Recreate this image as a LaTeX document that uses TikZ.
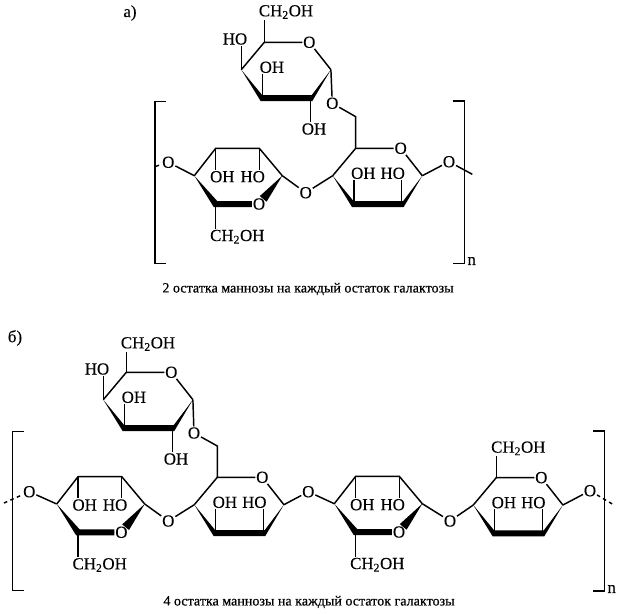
\documentclass[tikz,border=0pt]{standalone}
\usepackage{fontspec}
\setmainfont{Liberation Serif}
\newfontfamily\atomfont{Liberation Serif}[FakeBold=0.25]
\newfontfamily\captfont{Liberation Serif}[FakeBold=0.5]
\usepackage{tikz}
\usetikzlibrary{calc}
\tikzset{
  bond/.style={line width=1.25pt},
  atom/.style={inner sep=0.6pt,font=\atomfont\fontsize{14.4}{16}\selectfont},
  capt/.style={inner sep=0pt,font=\captfont\fontsize{12}{14}\selectfont},
  brack/.style={line width=1.25pt}
}
\newcommand{\frontbond}[4]{\fill (#1) -- ($(#2)+(-2,3)$) -- ($(#3)+(2,3)$) -- (#4) -- ($(#3)+(1.5,-3)$) -- ($(#2)+(-0.5,-3)$) -- cycle;}
\newcommand{\upring}[2]{
\begin{scope}[shift={#2},name prefix=#1-]
\coordinate (c5) at (355.7,148.3);
\node[atom] (o) at (400.7,148.3) {O};
\coordinate (c1) at (422.3,175.7);
\coordinate (c2) at (401.7,204);
\coordinate (c3) at (354,204);
\coordinate (c4) at (332.7,175.7);
\node[atom] (oh) at (363.3,173.3) {OH};
\draw[bond] (c4) -- (c5) -- (o) -- (c1);
\frontbond{c4}{c3}{c2}{c1}
\draw[bond] (c3) -- (oh.south -| c3);
\end{scope}
}
\newcommand{\upringho}[2]{
\upring{#1}{#2}
\begin{scope}[shift={#2},name prefix=#1-]
\node[atom] (ho) at (392.7,173.3) {HO};
\draw[bond] (c2) -- (ho.south -| c2);
\end{scope}
}
\newcommand{\downring}[2]{
\begin{scope}[shift={#2},name prefix=#1-]
\coordinate (c4) at (194.3,175.7);
\coordinate (c3) at (215.7,148.3);
\coordinate (c2) at (259.3,148.3);
\coordinate (c1) at (282.3,175.7);
\coordinate (c5) at (215.7,204);
\node[atom] (o) at (259,204) {O};
\node[atom] (oh) at (222.3,176.7) {OH};
\node[atom] (ho) at (252.7,176.7) {HO};
\node[atom] (ch) at (237.3,236.7) {CH\textsubscript{2}OH};
\draw[bond] (c4) -- (c3) -- (c2) -- (c1);
\draw[bond] (c3) -- (oh.north -| c3);
\draw[bond] (c2) -- (ho.north -| c2);
\draw[bond] (c5) -- (ch.north -| c5);
\fill (c4) -- ($(c5)+(-2,3)$) -- ($(o.west)+(0,3)$) -- ($(o.west)+(0,-3)$) -- ($(c5)+(1.5,-3)$) -- cycle;
\fill (c1) -- ($(c1)!0.82!(o)+(3.4,2.8)$) -- ($(c1)!0.82!(o)+(-3.4,-2.8)$) -- cycle;
\end{scope}
}
\begin{document}
\begin{tikzpicture}[x=0.03cm,y=-0.03cm]
\useasboundingbox (0,0) rectangle (621,613);
\node[atom] (la) at (130,13) {а)};
\upring{at}{(-91.4,-106)}
\node[atom] (atch) at (286,12) {CH\textsubscript{2}OH};
\node[atom] (atho) at (235,39) {HO};
\node[atom] (atoh) at (314,129) {OH};
\node[atom] (agl) at (332.3,103.3) {O};
\coordinate (ach) at (355.7,116.7);
\draw[bond] (at-c5) -- (atch.south -| at-c5);
\draw[bond] (at-c4) -- (atho.south -| at-c4);
\draw[bond] (at-c2) -- (atoh.north -| at-c2);
\downring{al}{(0,0)}
\upringho{ar}{(0,0)}
\draw[bond] (at-c1) -- (agl) -- (ach) -- (ar-c5);
\node[atom] (alo) at (305.7,192.7) {O};
\draw[bond] (al-c1) -- (alo) -- (ar-c4);
\node[atom] (aoa) at (168.3,162.3) {O};
\coordinate (aea) at (155.5,166.5);
\coordinate (aeb) at (159,165.2);
\draw[bond] (aea) -- (aeb);
\draw[bond] (aoa) -- (al-c4);
\node[atom] (aob) at (449,161.7) {O};
\coordinate (aec) at (472.3,174.3);
\draw[bond] (ar-c1) -- (aob) -- (aec);
\draw[brack] (166,101.7) -- (155,101.7) -- (155,263.3) -- (166,263.3);
\draw[brack] (452.7,101) -- (464.3,101) -- (464.3,263.3) -- (452.7,263.3);
\node[atom] (an) at (471.7,261) {n};
\node[capt] (capa) at (308,289) {2 остатка маннозы на каждый остаток галактозы};
\node[atom] (lb) at (15,338) {б)};
\upring{bt}{(-229.4,224)}
\node[atom] (btch) at (148,344) {CH\textsubscript{2}OH};
\node[atom] (btho) at (97,369) {HO};
\node[atom] (btoh) at (176,459) {OH};
\node[atom] (bgl) at (194,433) {O};
\coordinate (bch) at (217.3,446);
\draw[bond] (bt-c5) -- (btch.south -| bt-c5);
\draw[bond] (bt-c4) -- (btho.south -| bt-c4);
\draw[bond] (bt-c2) -- (btoh.north -| bt-c2);
\downring{ba}{(-137.6,328.3)}
\upringho{bb}{(-138.4,329)}
\downring{bc}{(140,328)}
\upringho{bd}{(140.6,329.3)}
\draw[bond] (bt-c1) -- (bgl) -- (bch) -- (bb-c5);
\node[atom] (boa) at (168.3,521) {O};
\node[atom] (bob) at (308.3,491.7) {O};
\node[atom] (boc) at (450,521) {O};
\node[atom] (bod) at (29.3,491.7) {O};
\node[atom] (boe) at (590,490.7) {O};
\draw[bond] (ba-c1) -- (boa) -- (bb-c4);
\draw[bond] (bb-c1) -- (bob) -- (bc-c4);
\draw[bond] (bc-c1) -- (boc) -- (bd-c4);
\draw[bond] (bod) -- (ba-c4);
\coordinate (bea) at (4,503);
\draw[bond,dashed] (bea) -- (bod);
\coordinate (beb) at (612.3,504);
\draw[bond] (bd-c1) -- (boe);
\draw[bond,dashed] (boe) -- (beb);
\node[atom] (bdch) at (518.3,448.3) {CH\textsubscript{2}OH};
\draw[bond] (bd-c5) -- (bdch.south -| bd-c5);
\draw[brack] (24,431.7) -- (12.7,431.7) -- (12.7,590.7) -- (24,590.7);
\draw[brack] (593.3,431) -- (604.3,431) -- (604.3,591) -- (593.3,591);
\node[atom] (bn) at (611.7,589) {n};
\node[capt] (capb) at (309,602) {4 остатка маннозы на каждый остаток галактозы};
\end{tikzpicture}
\end{document}
